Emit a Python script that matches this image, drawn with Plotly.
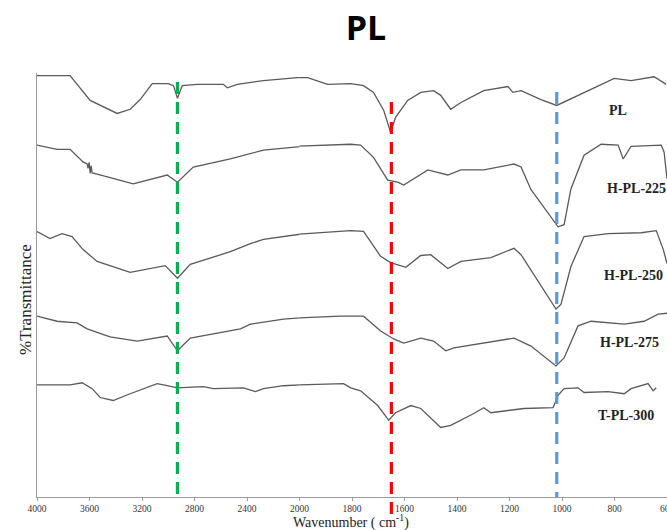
import plotly.graph_objects as go

# ---------------- data ----------------
series_names = ["PL", "H-PL-225", "H-PL-250", "H-PL-275", "T-PL-300"]

wn_pl = [4000, 3748, 3595, 3389, 3290, 3214, 3122, 3000, 2960, 2930, 2893, 2779, 2580, 2550,
         2473, 2275, 2015, 1969, 1893, 1805, 1756, 1718, 1679, 1653, 1634, 1588, 1538, 1489,
         1462, 1424, 1385, 1298, 1206, 1187, 1156, 1080, 1020, 954, 878, 801, 737, 649, 603]
t_pl = [100.0, 100.0, 94.1, 91.0, 92.0, 94.3, 98.1, 98.1, 97.6, 94.6, 97.6, 97.9, 97.9, 97.1,
        97.9, 98.8, 99.5, 99.5, 97.9, 98.1, 97.6, 96.0, 91.7, 86.5, 90.1, 94.1, 96.0, 96.4,
        95.3, 92.0, 93.6, 96.4, 97.4, 96.0, 96.4, 94.3, 92.9, 94.8, 97.1, 99.3, 98.8, 99.7, 97.9]

wn_225 = [4000, 3847, 3748, 3649, 3618, 3611, 3603, 3595, 3588, 3580, 3542, 3267, 3008, 2930,
          2809, 2527, 2275, 2015, 1805, 1767, 1718, 1664, 1626, 1603, 1511, 1435, 1385, 1298,
          1183, 1156, 1118, 1015, 992, 966, 916, 851, 786, 767, 737, 622, 611, 600]
t_225 = [83.5, 82.5, 82.5, 79.5, 79.0, 78.0, 79.4, 76.8, 78.6, 76.9, 76.6, 74.3, 76.4, 74.7,
         78.3, 80.2, 82.3, 83.2, 83.7, 83.5, 80.6, 75.2, 74.7, 74.0, 77.6, 76.4, 77.6, 77.6,
         79.0, 78.3, 72.9, 64.1, 64.6, 73.1, 81.1, 83.7, 83.5, 80.2, 83.2, 83.5, 81.8, 75.5]

wn_250 = [4000, 3901, 3809, 3733, 3649, 3542, 3290, 3137, 3023, 2930, 2832, 2527, 2374, 2275,
          2015, 1805, 1756, 1691, 1653, 1595, 1538, 1500, 1435, 1385, 1271, 1183, 1156, 1023,
          1004, 966, 916, 824, 698, 641, 614, 600]
t_250 = [63.0, 61.3, 62.5, 61.8, 58.7, 55.9, 53.3, 54.2, 54.9, 51.9, 55.2, 58.2, 60.1, 61.1,
         62.3, 63.2, 63.0, 57.1, 55.6, 54.5, 57.3, 57.5, 54.2, 55.9, 56.8, 59.0, 57.5, 44.6,
         45.7, 54.7, 61.8, 62.5, 62.7, 63.2, 58.7, 55.4]

wn_275 = [4000, 3847, 3695, 3618, 3443, 3237, 3008, 2930, 2832, 2702, 2450, 2374, 2122, 1844,
          1756, 1691, 1641, 1603, 1538, 1489, 1443, 1412, 1309, 1183, 1118, 1023, 992, 939,
          889, 763, 687, 634, 600]
t_275 = [42.9, 41.7, 41.3, 39.9, 38.0, 37.0, 38.2, 34.7, 37.7, 38.4, 39.9, 41.0, 42.2, 42.9,
         42.9, 39.4, 37.5, 36.5, 37.7, 37.0, 34.7, 35.4, 36.5, 37.7, 35.8, 31.1, 33.0, 40.6,
         41.7, 41.0, 41.7, 43.4, 43.6]

wn_300 = [4000, 3748, 3656, 3580, 3519, 3420, 3290, 3191, 3084, 3008, 2930, 2733, 2656, 2427,
          2336, 2275, 2122, 1832, 1805, 1767, 1702, 1660, 1634, 1576, 1538, 1462, 1424, 1336,
          1298, 1271, 1145, 1034, 1015, 992, 939, 916, 824, 763, 737, 672, 653, 641]
t_300 = [26.6, 26.6, 27.1, 25.7, 23.6, 22.9, 24.5, 25.7, 26.9, 26.4, 25.9, 26.2, 25.7, 25.9,
         25.0, 25.7, 26.4, 26.9, 25.9, 25.2, 21.7, 18.2, 20.0, 21.7, 21.0, 16.5, 17.0, 19.8,
         21.2, 20.0, 21.0, 21.2, 24.1, 25.7, 25.9, 24.8, 25.0, 24.5, 25.7, 26.9, 25.2, 25.9]

wavenumbers = [wn_pl, wn_225, wn_250, wn_275, wn_300]
transmittance = [t_pl, t_225, t_250, t_275, t_300]

ticks_high = [4000, 3600, 3200, 2800, 2400, 2000]
ticks_low = [1800, 1600, 1400, 1200, 1000, 800, 600]

band_positions = [2930, 1650, 1020]
band_colors = ["#00B050", "#FF0000", "#5B9BD5"]

# ---------------- figure ----------------
W, H = 667, 530
L, R, T, B = 37, 0, 73, 33
pw, ph = W - L - R, H - T - B

def px(xp):
    return (xp - L) / pw

def py(yp):
    return (H - B - yp) / ph

line_color = "#5a5a5a"
fig = go.Figure()
for wn, tr in zip(wavenumbers, transmittance):
    for xa in ("x", "x2"):
        fig.add_trace(go.Scatter(x=wn, y=tr, xaxis=xa, yaxis="y", mode="lines",
                                 line=dict(color=line_color, width=1.3),
                                 showlegend=False, hoverinfo="skip"))

serif = "Liberation Serif, Times New Roman, serif"
axis_common = dict(showline=True, linecolor="#9a9a9a", linewidth=1, ticks="outside",
                   ticklen=3, tickcolor="#9a9a9a", showgrid=False, zeroline=False,
                   tickfont=dict(family=serif, size=9.5, color="#333"), anchor="y",
                   tickmode="array", ticklabeloverflow="allow")
split = 5 / 12
fig.update_layout(
    width=W, height=H,
    margin=dict(l=L, r=R, t=T, b=B, autoexpand=False),
    paper_bgcolor="white", plot_bgcolor="white",
    xaxis=dict(domain=[0, split], range=[4000, 2000], tickvals=ticks_high,
               ticktext=[str(v) for v in ticks_high], **axis_common),
    xaxis2=dict(domain=[split, 1], range=[2000, 600], tickvals=ticks_low,
                ticktext=[str(v) for v in ticks_low], **axis_common),
    yaxis=dict(range=[0, 100.6], showline=True, linecolor="#9a9a9a", linewidth=1,
               showticklabels=False, ticks="", showgrid=False, zeroline=False),
    title=dict(text="<b>PL</b>", x=366 / W, xref="container",
               xanchor="center", y=1 - 28 / H, yanchor="middle",
               font=dict(family="Open Sans, sans-serif", size=34, color="black")),
)

# dashed marker lines
band_extent = [(82, 494), (102, 520), (92, 497)]
band_xref = ["x", "x2", "x2"]
for pos, col, (top, bot), xr in zip(band_positions, band_colors, band_extent, band_xref):
    fig.add_shape(type="line", xref=xr, yref="paper", x0=pos, x1=pos,
                  y0=py(top), y1=py(bot),
                  line=dict(color=col, width=3.2, dash="12px,8px"))

# series labels
label_pos = [(618, 110), (636, 188), (633, 275), (629, 342), (626, 415)]
for name, (xp, yp) in zip(series_names, label_pos):
    fig.add_annotation(text=f"<b>{name}</b>", xref="paper", yref="paper",
                       x=px(xp), y=py(yp), xanchor="center", yanchor="middle",
                       showarrow=False, font=dict(family=serif, size=14, color="#222"))

# axis titles
fig.add_annotation(text="Wavenumber ( cm<sup>-1</sup>)", xref="paper", yref="paper",
                   x=px(351), y=py(521), xanchor="center", yanchor="middle",
                   showarrow=False, font=dict(family=serif, size=14, color="#222"))
fig.add_annotation(text="%Transmittance", xref="paper", yref="paper",
                   x=px(25), y=py(300), xanchor="center", yanchor="middle",
                   textangle=-90, showarrow=False,
                   font=dict(family=serif, size=17, color="#222"))

fig.write_html("out.html", config={"displayModeBar": False},
               post_script="document.body.style.margin='0';"
                           "document.body.style.overflow='hidden';")
